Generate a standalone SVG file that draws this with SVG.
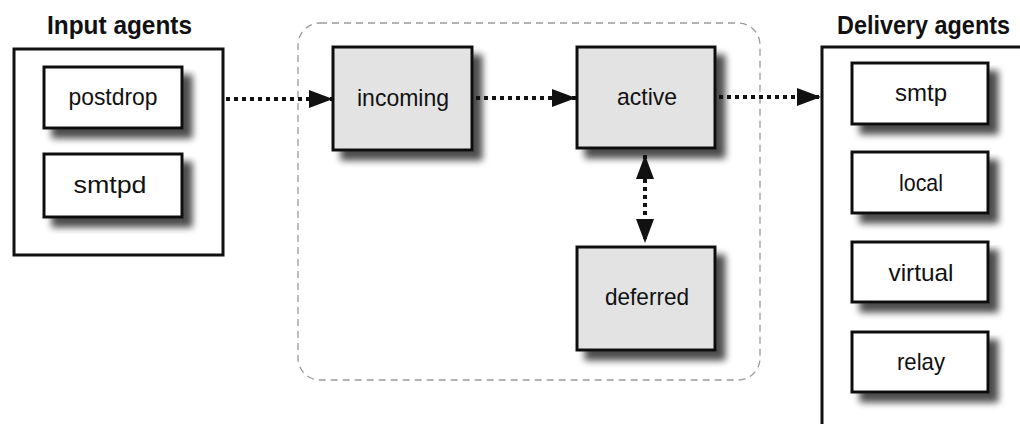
<svg xmlns="http://www.w3.org/2000/svg" width="1020" height="424" viewBox="0 0 1020 424">
<style>
.frame{fill:#fff;stroke:#111;stroke-width:3}
.agent{fill:#fff;stroke:#111;stroke-width:3}
.queue{fill:#e3e3e3;stroke:#111;stroke-width:3}
.lbl{font-family:"Liberation Sans Narrow","Liberation Sans",Arial,sans-serif;font-size:24px;fill:#111;text-anchor:middle}
.ttl{font-family:"Liberation Sans Narrow","Liberation Sans",Arial,sans-serif;font-size:25px;font-weight:bold;fill:#111}
.flow{fill:none;stroke:#111;stroke-width:4;stroke-dasharray:4 4}
.zone{fill:none;stroke:#9a9a9a;stroke-width:1.3;stroke-dasharray:7 5}
</style>
<defs>
<filter id="sh" x="-10%" y="-10%" width="130%" height="145%">
<feGaussianBlur in="SourceAlpha" stdDeviation="3.5"/>
<feOffset dx="9" dy="9" result="b"/>
<feComponentTransfer><feFuncA type="linear" slope="0.7"/></feComponentTransfer>
<feMerge><feMergeNode/><feMergeNode in="SourceGraphic"/></feMerge>
</filter>
<marker id="ah" markerUnits="userSpaceOnUse" markerWidth="26" markerHeight="20" refX="24" refY="9" orient="auto-start-reverse">
<path d="M0,0 L24,9 L0,18 z" fill="#111"/>
</marker>
</defs>
<rect width="1020" height="424" fill="#fff"/>

<g id="queue-manager">
<rect class="zone" x="298" y="23" width="462" height="357" rx="22"/>
</g>

<g id="input-agents">
<rect class="frame" x="14" y="49" width="209" height="206"/>
<text class="ttl" x="47" y="34" textLength="145" lengthAdjust="spacingAndGlyphs">Input agents</text>
</g>
<g id="postdrop">
<rect class="agent" x="44" y="67" width="138" height="61" filter="url(#sh)"/>
<text class="lbl" x="113" y="105" textLength="89" lengthAdjust="spacingAndGlyphs">postdrop</text>
</g>
<g id="smtpd">
<rect class="agent" x="44" y="154" width="138" height="63" filter="url(#sh)"/>
<text class="lbl" x="110" y="193" textLength="73" lengthAdjust="spacingAndGlyphs">smtpd</text>
</g>

<g id="incoming">
<rect class="queue" x="333" y="47" width="139" height="103" filter="url(#sh)"/>
<text class="lbl" x="403" y="106" textLength="92" lengthAdjust="spacingAndGlyphs">incoming</text>
</g>
<g id="active">
<rect class="queue" x="577" y="47" width="138" height="101" filter="url(#sh)"/>
<text class="lbl" x="647" y="105" textLength="60" lengthAdjust="spacingAndGlyphs">active</text>
</g>
<g id="deferred">
<rect class="queue" x="577" y="247" width="138" height="103" filter="url(#sh)"/>
<text class="lbl" x="647" y="305" textLength="84" lengthAdjust="spacingAndGlyphs">deferred</text>
</g>

<g id="delivery-agents">
<rect class="frame" x="822" y="47" width="220" height="400"/>
<text class="ttl" x="837" y="34" textLength="173" lengthAdjust="spacingAndGlyphs">Delivery agents</text>
</g>
<g id="smtp">
<rect class="agent" x="852" y="63" width="136" height="61" filter="url(#sh)"/>
<text class="lbl" x="921" y="101" textLength="52" lengthAdjust="spacingAndGlyphs">smtp</text>
</g>
<g id="local">
<rect class="agent" x="852" y="152" width="136" height="61" filter="url(#sh)"/>
<text class="lbl" x="921" y="191" textLength="44" lengthAdjust="spacingAndGlyphs">local</text>
</g>
<g id="virtual">
<rect class="agent" x="852" y="242" width="136" height="60" filter="url(#sh)"/>
<text class="lbl" x="921" y="281" textLength="65" lengthAdjust="spacingAndGlyphs">virtual</text>
</g>
<g id="relay">
<rect class="agent" x="852" y="332" width="136" height="60" filter="url(#sh)"/>
<text class="lbl" x="921" y="370" textLength="48" lengthAdjust="spacingAndGlyphs">relay</text>
</g>

<g id="connectors">
<line class="flow" x1="226" y1="99" x2="333" y2="99" marker-end="url(#ah)"/>
<line class="flow" x1="476" y1="98" x2="576" y2="98" marker-end="url(#ah)"/>
<line class="flow" x1="719" y1="97" x2="821" y2="97" marker-end="url(#ah)"/>
<line class="flow" x1="645" y1="155" x2="645" y2="243" marker-start="url(#ah)" marker-end="url(#ah)"/>
</g>
</svg>
